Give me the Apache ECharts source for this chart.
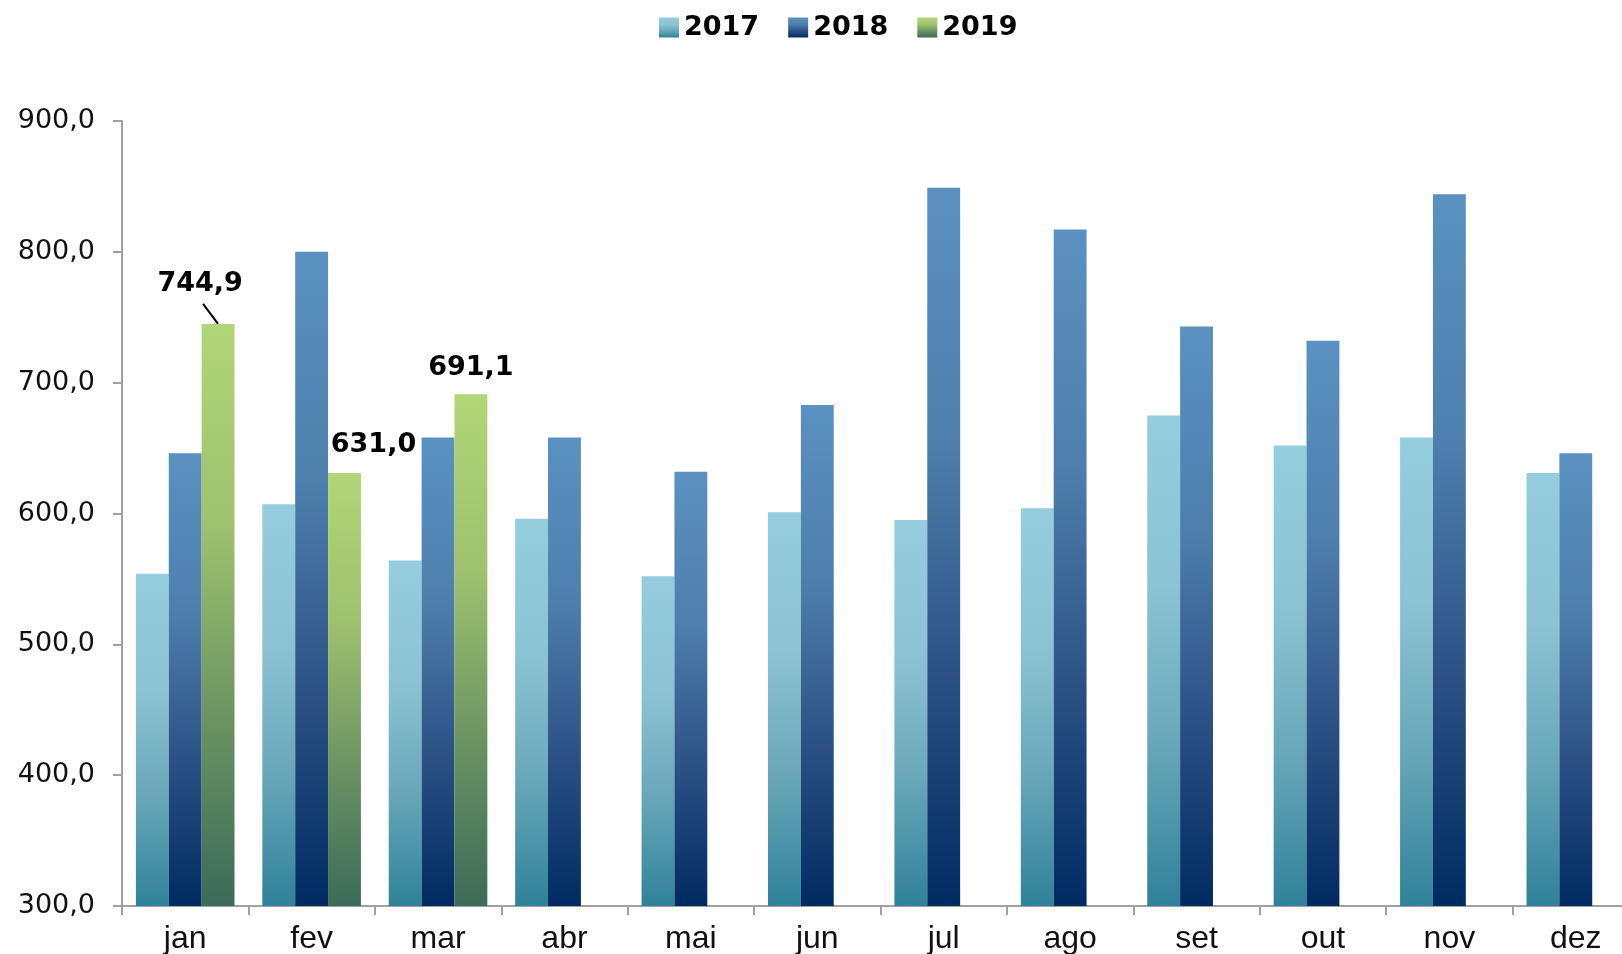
<!DOCTYPE html>
<html>
<head>
<meta charset="utf-8">
<title>Mensal 2017-2019</title>
<script src="https://cdn.jsdelivr.net/npm/echarts@6/dist/echarts.min.js"></script>
<style>
  html, body { margin: 0; padding: 0; background: #fff; overflow: hidden; }
  /* plot runs a little past the right edge, like the original */
  #chart { width: 1639px; height: 954px; }
</style>
</head>
<body>
<div id="chart"></div>
<script>
const months = ['jan', 'fev', 'mar', 'abr', 'mai', 'jun', 'jul', 'ago', 'set', 'out', 'nov', 'dez']
const years = ['2017', '2018', '2019']

const values2017 = [554, 607, 564, 596, 552, 601, 595, 604, 675, 652, 658, 631]
const values2018 = [646, 800, 658, 658, 632, 683, 849, 817, 743, 732, 844, 646]
const values2019 = [744.9, 631.0, 691.1, null, null, null, null, null, null, null, null, null]

const yTicks = { min: 300, max: 900, interval: 100 }

const fmt = v => v.toFixed(1).replace('.', ',')

const grad = (top, upper, lower, bottom) => new echarts.graphic.LinearGradient(0, 0, 0, 1, [
  { offset: 0, color: top },
  { offset: 0.35, color: upper },
  { offset: 0.68, color: lower },
  { offset: 1, color: bottom }
])

const colors = {
  '2017': grad('#95cdde', '#8cc3d4', '#67a6b8', '#2f8299'),
  '2018': grad('#5a91c0', '#4e7fac', '#2b5184', '#002b62'),
  '2019': grad('#b1d677', '#9dc16e', '#6b9362', '#3b6b59')
}

// per-point label placement for the 2019 values
const labelOffsets = [[-18, -22], [29, -10], [0, -9]]

const chart = echarts.init(document.getElementById('chart'))

// rects of the jan 2019 bar and its label, picked up during label layout
let janRects = null

const barSeries = (name, data) => ({
  name: name,
  type: 'bar',
  data: data,
  barGap: '0%',
  barCategoryGap: '22%',
  itemStyle: { color: colors[name] }
})

const s2019 = barSeries('2019', values2019)
s2019.label = {
  show: true,
  position: 'top',
  distance: 4,
  fontFamily: 'DejaVu Sans',
  fontWeight: 'bold',
  fontSize: 27,
  color: '#000',
  formatter: p => fmt(p.value)
}
s2019.labelLayout = p => {
  const off = labelOffsets[p.dataIndex]
  if (!off) return {}
  if (p.dataIndex === 0) janRects = { bar: p.rect, label: p.labelRect, off: off }
  return { dx: off[0], dy: off[1] }
}

chart.setOption({
  animation: false,
  legend: {
    data: years,
    left: 654,
    top: 9,
    icon: 'rect',
    itemWidth: 20,
    itemHeight: 20,
    itemGap: 29,
    textStyle: {
      fontFamily: 'DejaVu Sans',
      fontWeight: 'bold',
      fontSize: 27,
      color: '#000'
    }
  },
  grid: {
    left: 122,
    top: 121,
    bottom: 48,
    right: 0,
    containLabel: false,
    outerBoundsMode: 'none'
  },
  xAxis: {
    type: 'category',
    data: months,
    axisLine: { lineStyle: { color: '#a0a0a0', width: 2 } },
    axisTick: { show: true, length: 9, lineStyle: { color: '#a0a0a0', width: 2 } },
    axisLabel: {
      margin: 17,
      fontFamily: 'Liberation Sans',
      fontSize: 32,
      color: '#111'
    }
  },
  yAxis: {
    type: 'value',
    min: yTicks.min,
    max: yTicks.max,
    interval: yTicks.interval,
    splitLine: { show: false },
    axisLine: { show: true, lineStyle: { color: '#a0a0a0', width: 2 } },
    axisTick: { show: true, length: 9, lineStyle: { color: '#a0a0a0', width: 2 } },
    axisLabel: {
      margin: 27,
      fontFamily: 'DejaVu Sans',
      fontSize: 27,
      color: '#111',
      formatter: v => fmt(v)
    }
  },
  series: [
    barSeries('2017', values2017),
    barSeries('2018', values2018),
    s2019
  ]
})

// leader line from the moved jan label down to the top of its bar
if (janRects) {
  const lr = janRects.label
  const r = janRects.bar
  const off = janRects.off
  chart.setOption({
    graphic: [{
      type: 'line',
      silent: true,
      shape: {
        x1: lr.x + lr.width / 2 + off[0] + 3,
        y1: lr.y + lr.height + off[1] + 6,
        x2: r.x + r.width / 2,
        y2: r.y
      },
      style: { stroke: '#000', lineWidth: 2 }
    }]
  })
}
</script>
</body>
</html>
